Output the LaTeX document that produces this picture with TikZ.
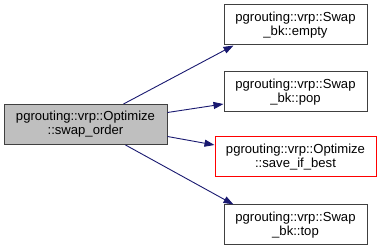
\documentclass[tikz,border=0pt]{standalone}
\usepackage{fontspec}
\setmainfont{Liberation Sans}
\usetikzlibrary{positioning,arrows.meta}

\definecolor{edgeblue}{HTML}{191970}
\definecolor{boxgrey}{HTML}{404040}

\begin{document}
\begin{tikzpicture}[x=1pt, y=1pt,
funcnode/.style={rectangle, draw=boxgrey, line width=1pt, align=center, inner sep=0pt,
  minimum width=143pt, minimum height=40pt, font=\fontsize{13.1}{14}\selectfont},
mainnode/.style={funcnode, fill=black!25, minimum width=163pt},
rednode/.style={funcnode, draw=red, minimum width=161pt},
callarrow/.style={draw=edgeblue, line width=0.9pt, -{Triangle[length=10pt, width=7pt]}},
]
\useasboundingbox (0,0) rectangle (381,248);

%Nodes
\node[mainnode]     (swaporder)  at (85.5,123.5)        {pgrouting::vrp::Optimize\\::swap\_order};
\node[funcnode]     (bkempty)    at (295.5,223)         {pgrouting::vrp::Swap\\\_bk::empty};
\node[funcnode]     (bkpop)      [below=26pt of bkempty] {pgrouting::vrp::Swap\\\_bk::pop};
\node[rednode]      (savebest)   [below=24pt of bkpop]   {pgrouting::vrp::Optimize\\::save\_if\_best};
\node[funcnode]     (bktop)      [below=27pt of savebest] {pgrouting::vrp::Swap\\\_bk::top};

%Lines
\draw[callarrow] ([xshift=38pt]swaporder.north) -- ([xshift=-62pt]bkempty.south);
\draw[callarrow] ([yshift=12pt]swaporder.east) -- ([yshift=-12pt]bkpop.west);
\draw[callarrow] ([yshift=-12pt]swaporder.east) -- ([yshift=12pt]savebest.west);
\draw[callarrow] ([xshift=40pt]swaporder.south) -- ([xshift=-62pt]bktop.north);
\end{tikzpicture}
\end{document}
